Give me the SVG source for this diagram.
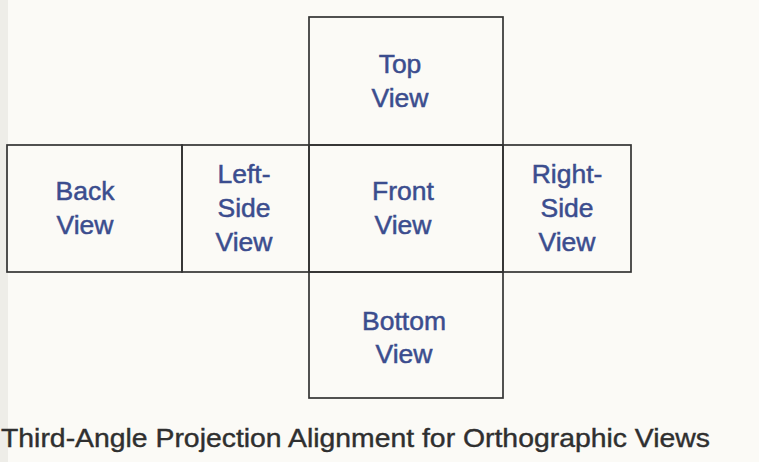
<svg xmlns="http://www.w3.org/2000/svg" width="759" height="462" viewBox="0 0 759 462">
<style>
.box{fill:none;stroke:#333;stroke-width:1.7}
.lbl{font-family:"Liberation Sans",Arial,sans-serif;font-size:26.5px;fill:#3b4d8e;stroke:#3b4d8e;stroke-width:0.5;text-anchor:middle}
.cap{font-family:"Liberation Sans",Arial,sans-serif;font-size:26px;fill:#2f2f2f;stroke:#2f2f2f;stroke-width:0.4}
</style>
<rect x="0" y="0" width="759" height="462" fill="#fbfaf6"/>
<rect x="0" y="0" width="8" height="462" fill="#eeede8"/>
<g id="top"><rect class="box" x="309" y="17" width="194" height="128"/><text class="lbl" x="400" y="73">Top</text><text class="lbl" x="400" y="107">View</text></g>
<g id="back"><rect class="box" x="7" y="145" width="175" height="127"/><text class="lbl" x="85" y="200">Back</text><text class="lbl" x="85" y="234">View</text></g>
<g id="left"><rect class="box" x="182" y="145" width="127" height="127"/><text class="lbl" x="244" y="183">Left-</text><text class="lbl" x="244" y="217">Side</text><text class="lbl" x="244" y="251">View</text></g>
<g id="front"><rect class="box" x="309" y="145" width="194" height="127"/><text class="lbl" x="403" y="200">Front</text><text class="lbl" x="403" y="234">View</text></g>
<g id="right"><rect class="box" x="503" y="145" width="128" height="127"/><text class="lbl" x="567" y="183">Right-</text><text class="lbl" x="567" y="217">Side</text><text class="lbl" x="567" y="251">View</text></g>
<g id="bottom"><rect class="box" x="309" y="272" width="194" height="126"/><text class="lbl" x="404" y="330">Bottom</text><text class="lbl" x="404" y="363">View</text></g>
<g id="connectors"></g>
<text class="cap" x="1" y="447" textLength="709" lengthAdjust="spacingAndGlyphs">Third-Angle Projection Alignment for Orthographic Views</text>
</svg>
